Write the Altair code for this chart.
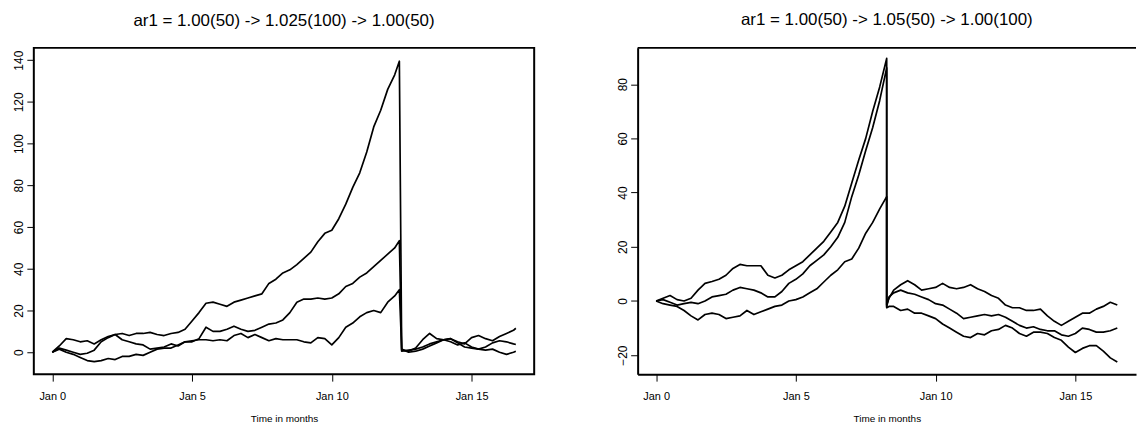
import altair as alt
import pandas as pd

# ---- sample times (months); one simulated step = 1/12 month -------------
left_steps = list(range(0, 148, 3)) + [149, 150] + list(range(153, 199, 3)) + [199]
right_steps = list(range(0, 100, 3)) + [99, 100] + list(range(102, 199, 3)) + [199]
left_months = [s / 12 for s in left_steps]
right_months = [s / 12 for s in right_steps]

# ---- left panel: ar1 = 1.00(50) -> 1.025(100) -> 1.00(50) -----------------
left_a = [0, 3, 6.5, 6, 5, 5.5, 4, 6, 7.5, 8.5, 9, 8, 9, 9, 9.5, 8.5, 8, 9, 9.5, 11,
          15, 19, 23.5, 24, 23, 22, 24, 25, 26, 27, 28, 33, 35, 38, 39.5, 42, 45, 48,
          53, 57, 58.5, 64, 71, 79, 86, 96, 108, 116, 126, 133, 139.5,
          1, 0.5, 2, 6, 9, 6.5, 6, 6.5, 5, 4, 7, 8, 6.5, 5.5, 7.5, 9, 10.5, 11.5]
left_b = [0, 1.5, 0, -1, -2.5, -4, -4.5, -4, -3, -3.5, -2, -2, -1, -1.5, 0, 1.5, 2,
          2, 3.5, 5, 5, 6.5, 12, 10, 10, 11, 12.5, 11, 10, 10.5, 12, 13.5, 14, 15.5,
          19, 24, 25.5, 25.5, 26, 25.5, 26, 28, 31.5, 33, 36, 38, 41, 44, 47, 50, 53.5,
          0.5, 1, 1.5, 2.5, 4, 5, 6, 5, 3.5, 4.5, 2.5, 1.5, 2.5, 4.5, 5.5, 5, 4, 3.7]
left_c = [0, 2, 1, 0, -1, -0.5, 1, 5, 7, 8.5, 6, 5, 4, 3.5, 1.5, 2, 2.5, 4, 3, 5,
          5.5, 6, 6, 5.5, 6, 5.5, 8, 9, 7, 8.5, 7, 5.5, 6.5, 6, 6, 6, 5, 4.5, 7, 6.5,
          3.5, 7, 12, 14, 17, 19, 20, 19, 24, 27, 30,
          1.5, 0, 0.5, 1.5, 3, 4.5, 6, 6.5, 4.5, 2.5, 2, 1.5, 1, 1.5, 0, -1, 0, 0.5]

# ---- right panel: ar1 = 1.00(50) -> 1.05(50) -> 1.00(100) -----------------
right_a = [0, 1, 2, 0.5, 0, 1, 4, 6.5, 7.2, 8, 9.5, 12, 13.5, 13, 13, 13, 9.5, 8.5,
           9.5, 11.5, 13, 14.5, 17, 19.5, 22, 25.5, 29, 35, 43.5, 52, 60, 70, 79, 89.5,
           -1.5, 1, 4, 6, 7.5, 6, 4, 4.5, 5, 6.5, 5, 4.5, 5, 6, 4.5, 3.5, 2, 1, -1.5,
           -2.5, -2.5, -3.5, -3.5, -3, -5.5, -7.5, -9, -7.5, -6, -4.5, -4.5, -3, -2,
           -0.5, -1.5]
right_b = [0, 0.5, -0.5, -1.5, -1, -0.5, -1, 0, 1.5, 2, 2.5, 4, 5, 4.5, 4, 3, 1.5,
           1.5, 3.5, 6.5, 8, 10, 13, 15, 17, 20, 23.5, 29, 38.5, 46.5, 55.5, 64, 74, 86,
           -2, 1.5, 3, 4, 3, 2.5, 1.5, 0.5, -1, -1.5, -3, -4.5, -6.5, -6, -5.5, -5,
           -5.5, -5, -6, -7.5, -9, -10, -9.5, -10.5, -11, -11, -12.5, -13, -12, -10,
           -10.5, -11.5, -11.5, -11, -10]
right_c = [0, -1, -1.5, -2, -3.5, -5.5, -7, -5, -4.5, -5, -6.5, -6, -5.5, -3.5, -5,
           -4, -3, -2, -1.5, 0, 0.5, 1.5, 3, 4.5, 7, 9.5, 11.5, 14.5, 15.5, 19.5, 25,
           29, 34, 38.5,
           -2.5, -2, -2, -3.5, -3, -4.5, -4.5, -5.5, -6.5, -8.5, -10, -11.5, -13, -13.5,
           -12, -12.5, -11, -10.5, -9, -10, -12, -13, -11.5, -11.5, -12, -13.5, -14.5,
           -17, -19, -17.5, -16.5, -16.5, -18.5, -21, -22.5]


def long_table(months, series):
    rows = []
    for name, values in series.items():
        for m, v in zip(months, values):
            rows.append({"month": m, "value": v, "series": name})
    return pd.DataFrame(rows)


FONT = "Liberation Sans"
PANEL_H = 328


def lines(df, x_domain, y_domain, y_ticks, width, show_domain):
    return (
        alt.Chart(df)
        .mark_line(color="black", strokeWidth=1.7, strokeJoin="round")
        .encode(
            x=alt.X(
                "month:Q",
                scale=alt.Scale(domain=x_domain, nice=False, zero=False),
                axis=alt.Axis(
                    values=[0, 5, 10, 15],
                    labelExpr="'Jan ' + datum.value",
                    labelPadding=9,
                    title="Time in months",
                    titleFont=FONT,
                    titleFontSize=10,
                    titleFontWeight="normal",
                    titleColor="black",
                    titlePadding=13,
                    domain=show_domain,
                    domainColor="black",
                    domainWidth=2,
                ),
            ),
            y=alt.Y(
                "value:Q",
                scale=alt.Scale(domain=y_domain, nice=False, zero=False),
                axis=alt.Axis(
                    values=y_ticks,
                    labelAngle=270,
                    labelFontSize=12,
                    labelPadding=1,
                    title=None,
                    domain=show_domain,
                    domainColor="black",
                    domainWidth=2,
                ),
            ),
            detail="series:N",
        )
        .properties(width=width, height=PANEL_H)
    )


def panel_title(text):
    return alt.TitleParams(
        text,
        font=FONT,
        fontSize=17,
        fontWeight="normal",
        color="black",
        anchor="middle",
        offset=18,
    )


left = lines(
    long_table(left_months, {"a": left_a, "b": left_b, "c": left_c}),
    [-0.66, 17.24],
    [-10.5, 145.9],
    [0, 20, 40, 60, 80, 100, 120, 140],
    503,
    False,
).properties(title=panel_title("ar1 = 1.00(50) -> 1.025(100) -> 1.00(50)"))

# The right panel runs past the page edge, so its box is drawn without a right side.
right_width = 501
right_lines = lines(
    long_table(right_months, {"a": right_a, "b": right_b, "c": right_c}),
    [-0.66, -0.66 + right_width / 28.1],
    [-27.0, 93.4],
    [-20, 0, 20, 40, 60, 80],
    right_width,
    True,
)
top_edge = (
    alt.Chart(pd.DataFrame({"edge": ["top"]}))
    .mark_rule(color="black", strokeWidth=2)
    .encode(x=alt.value(0), x2=alt.value(right_width), y=alt.value(0))
)
right = (
    alt.layer(right_lines, top_edge)
    .properties(
        title=panel_title("ar1 = 1.00(50) -> 1.05(50) -> 1.00(100)"),
        view=alt.ViewBackground(stroke="transparent", strokeWidth=0),
    )
)

chart = (
    alt.hconcat(left, right, spacing=82)
    .properties(padding={"left": 11, "top": 10, "right": 0, "bottom": 0}, background="white")
    .configure_view(stroke="black", strokeWidth=2)
    .configure_axis(
        grid=False,
        ticks=True,
        tickColor="black",
        tickSize=7,
        tickWidth=1,
        labelFont=FONT,
        labelFontSize=11,
        labelColor="black",
    )
)

chart.save("out.html", embed_options={"renderer": "svg", "actions": False})
